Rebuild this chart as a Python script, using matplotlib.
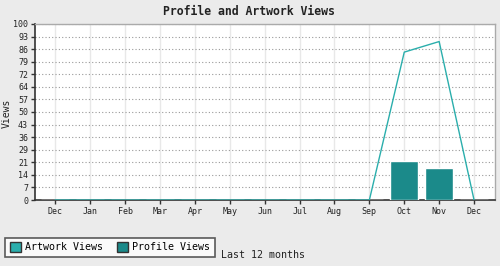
import matplotlib
matplotlib.use("Agg")
import matplotlib.pyplot as plt
from matplotlib.patches import Patch
import numpy as np

months = ["Dec", "Jan", "Feb", "Mar", "Apr", "May", "Jun", "Jul", "Aug", "Sep", "Oct", "Nov", "Dec"]
artwork_views = [0, 0, 0, 0, 0, 0, 0, 0, 0, 0, 84, 90, 0]
profile_views = [0, 0, 0, 0, 0, 0, 0, 0, 0, 0, 22, 18, 0]
ytick_labels = ["0", "7", "14", "21", "29", "36", "43", "50", "57", "64", "72", "79", "86", "93", "100"]

line_color = "#2aaeac"
bar_color = "#1b8a8a"
bg = "#ebebeb"
font = "DejaVu Sans Mono"

fig = plt.figure(figsize=(5, 2.66), dpi=100, facecolor=bg)
ax = fig.add_axes([0.07, 0.248, 0.92, 0.662])
ax.set_facecolor("white")

x = np.arange(len(months))
ax.bar(x, profile_views, width=0.8, color=bar_color, edgecolor="white", linewidth=1, zorder=3)
ax.plot(x, artwork_views, color=line_color, linewidth=1, zorder=4)

ax.set_xlim(-0.58, 12.6)
ax.set_ylim(0, 100)
yt = [k * 100 / 14 for k in range(15)]
ax.set_yticks(yt)
ax.set_yticklabels(ytick_labels, fontsize=6, family=font)
ax.set_xticks(x)
ax.set_xticklabels(months, fontsize=6, family=font)

ax.grid(axis="y", linestyle=(0, (1, 2)), color="#999999", linewidth=0.8, zorder=1)
ax.grid(axis="x", linestyle="-", color="#e8e8e8", linewidth=1, zorder=1)
ax.tick_params(axis="both", length=3, width=1, color="#333333", pad=2, labelcolor="#222222")

for s in ["left", "bottom"]:
    ax.spines[s].set_color("#333333")
    ax.spines[s].set_linewidth(1.2)
for s in ["top", "right"]:
    ax.spines[s].set_color("#aaaaaa")
    ax.spines[s].set_linewidth(1)

ax.set_ylabel("Views", fontsize=7, family=font, color="#222222")
ax.yaxis.set_label_coords(-0.05, 0.49)
fig.text(0.498, 0.955, "Profile and Artwork Views", ha="center", va="center",
         fontsize=8.3, fontweight="bold", family=font, color="#222222")

handles = [Patch(facecolor=line_color, edgecolor="#333333", label="Artwork Views"),
           Patch(facecolor=bar_color, edgecolor="#333333", label="Profile Views")]
leg = fig.legend(handles=handles, loc="lower left", bbox_to_anchor=(0.01, 0.034), ncol=2,
                 prop={"family": font, "size": 7.2}, frameon=True, fancybox=False,
                 handlelength=1.1, handleheight=1.1, handletextpad=0.45, columnspacing=1.4,
                 borderpad=0.45, borderaxespad=0)
leg.get_frame().set_edgecolor("#333333")
leg.get_frame().set_linewidth(1.2)
leg.get_frame().set_facecolor("white")

fig.text(0.442, 0.041, "Last 12 months", ha="left", va="center", fontsize=7.2, family=font, color="#222222")

fig.savefig("out.png", dpi=100, facecolor=bg)
